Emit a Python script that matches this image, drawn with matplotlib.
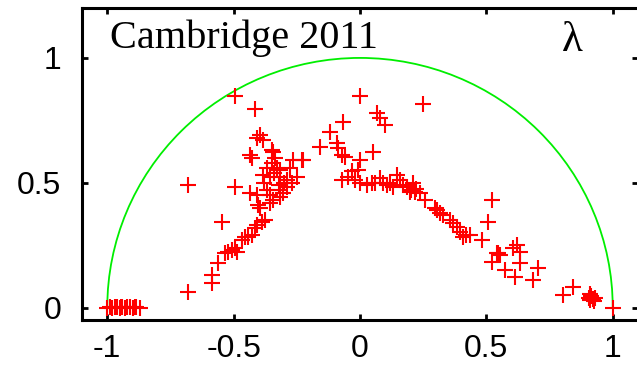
import matplotlib
matplotlib.use("Agg")
import matplotlib.pyplot as plt
from matplotlib.patches import Arc

# points (lambda plane)
x_left_base = [-1.0, -0.99, -0.98, -0.97, -0.96, -0.95, -0.945, -0.94,
               -0.93, -0.92, -0.91, -0.90, -0.89, -0.885, -0.87]
y_left_base = [0.0, 0.002, 0.0, 0.003, 0.001, 0.0, 0.002, 0.001,
               0.0, 0.002, 0.001, 0.0, 0.002, 0.001, 0.0]

x_left_arm = [-0.68, -0.585, -0.585, -0.561, -0.545, -0.534, -0.522, -0.506,
              -0.494, -0.486, -0.466, -0.455, -0.443, -0.427, -0.415, -0.407,
              -0.387, -0.375, -0.403, -0.395, -0.356, -0.344, -0.316, -0.304,
              -0.435, -0.407, -0.368, -0.356, -0.316, -0.289, -0.68, -0.494,
              -0.383, -0.356, -0.316, -0.249, -0.289, -0.269, -0.277, -0.265,
              -0.229, -0.316, -0.328, -0.368, -0.348, -0.336, -0.344, -0.427,
              -0.435, -0.383, -0.407, -0.395, -0.415, -0.494,
              -0.34, -0.30, -0.32, -0.35, -0.38]
y_left_arm = [0.062, 0.13, 0.10, 0.178, 0.342, 0.218, 0.222, 0.23,
              0.238, 0.222, 0.27, 0.282, 0.282, 0.29, 0.318, 0.33,
              0.342, 0.35, 0.41, 0.398, 0.418, 0.43, 0.442, 0.458,
              0.458, 0.45, 0.47, 0.45, 0.47, 0.482, 0.49, 0.482,
              0.53, 0.522, 0.522, 0.522, 0.51, 0.498, 0.558, 0.59,
              0.59, 0.55, 0.56, 0.56, 0.58, 0.60, 0.622, 0.60,
              0.61, 0.67, 0.678, 0.69, 0.794, 0.846,
              0.54, 0.50, 0.49, 0.63, 0.50]

x_middle = [0.0, 0.249, 0.067, 0.079, 0.099, -0.067, -0.119, -0.158,
            -0.091, -0.087, -0.071, -0.059, 0.051, 0.0, -0.225, -0.008,
            -0.071, -0.047, -0.02, 0.0, 0.028, 0.047, 0.079, 0.107,
            0.146, 0.158, 0.13, 0.186, 0.209, 0.217, 0.198, -0.03,
            0.06, 0.09, 0.12, 0.17, 0.20, 0.22]
y_middle = [0.846, 0.814, 0.778, 0.758, 0.73, 0.742, 0.702, 0.642,
            0.658, 0.638, 0.61, 0.602, 0.622, 0.59, 0.59, 0.55,
            0.51, 0.522, 0.51, 0.498, 0.49, 0.498, 0.518, 0.49,
            0.53, 0.51, 0.482, 0.482, 0.498, 0.462, 0.462, 0.545,
            0.50, 0.50, 0.50, 0.49, 0.47, 0.475]

x_right_arm = [0.237, 0.257, 0.296, 0.304, 0.316, 0.33, 0.356, 0.368,
               0.383, 0.395, 0.407, 0.42, 0.435, 0.482, 0.522, 0.506,
               0.541, 0.553, 0.545, 0.605, 0.62, 0.632, 0.522, 0.632,
               0.573, 0.613, 0.704, 0.684, 0.802, 0.842,
               0.905, 0.91, 0.915, 0.92, 0.925, 0.912, 0.93, 1.0]
y_right_arm = [0.458, 0.43, 0.398, 0.39, 0.378, 0.37, 0.35, 0.338,
               0.322, 0.302, 0.282, 0.29, 0.29, 0.27, 0.43, 0.342,
               0.218, 0.21, 0.22, 0.238, 0.25, 0.222, 0.182, 0.178,
               0.15, 0.122, 0.158, 0.11, 0.05, 0.082,
               0.04, 0.03, 0.045, 0.035, 0.025, 0.055, 0.04, 0.0]

x_ticks = [-1, -0.5, 0, 0.5, 1]
x_tick_labels = ["-1", "-0.5", "0", "0.5", "1"]
y_ticks = [0, 0.5, 1]
y_tick_labels = ["0", "0.5", "1"]

x_all = x_left_base + x_left_arm + x_middle + x_right_arm
y_all = y_left_base + y_left_arm + y_middle + y_right_arm

fig = plt.figure(figsize=(6.37, 3.69), dpi=100)
ax = fig.add_axes([82 / 637, 49 / 369, 556 / 637, 312 / 369])

ax.add_patch(Arc((0, 0), 2, 2, theta1=0, theta2=180, color="#00ee00", lw=1.3))
ax.plot(x_all, y_all, linestyle="none", marker="+", color="red",
        markersize=12, markeredgewidth=1.5)

ax.set_xlim(-1.1, 1.1)
ax.set_ylim(-0.05, 1.2)
ax.set_xticks(x_ticks)
ax.set_xticklabels(x_tick_labels)
ax.set_yticks(y_ticks)
ax.set_yticklabels(y_tick_labels)
ax.tick_params(direction="in", length=4, width=2, top=True, right=True,
               labelsize=23, labelfontfamily="Liberation Sans")
ax.tick_params(axis="x", pad=10)
ax.tick_params(axis="y", pad=15)
for spine in ax.spines.values():
    spine.set_linewidth(2.2)

ax.text(-0.99, 1.08, "Cambridge 2011", fontsize=29, family="Liberation Serif",
        va="center", ha="left")
ax.text(0.84, 1.07, "λ", fontsize=31, family="Liberation Serif",
        va="center", ha="center")

fig.savefig("out.png", dpi=100)
